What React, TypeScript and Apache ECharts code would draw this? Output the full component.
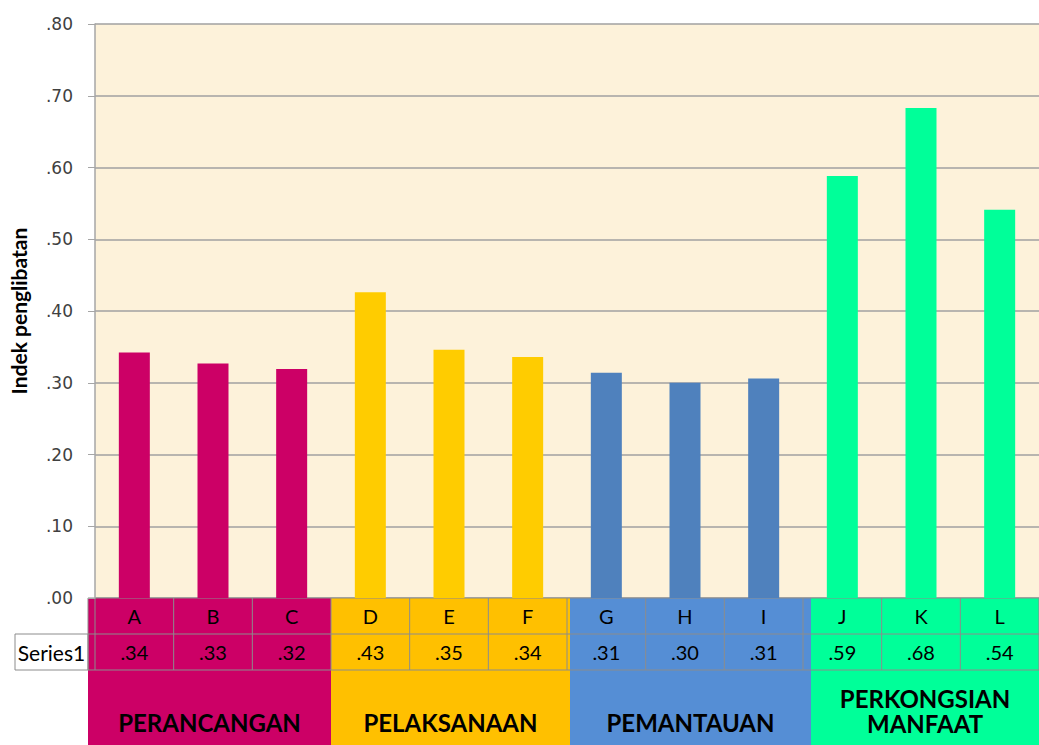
import React, { useEffect, useRef } from "react";
import * as echarts from "echarts";

const categories = ["A", "B", "C", "D", "E", "F", "G", "H", "I", "J", "K", "L"];
const values = [0.342, 0.327, 0.319, 0.426, 0.346, 0.336, 0.314, 0.3, 0.306, 0.588, 0.683, 0.541];
const groups = [["PERANCANGAN"], ["PELAKSANAAN"], ["PEMANTAUAN"], ["PERKONGSIAN", "MANFAAT"]];
const groupOf = [0, 0, 0, 1, 1, 1, 2, 2, 2, 3, 3, 3];
const seriesName = "Series1";
const yTitle = "Indek penglibatan";

const barColors = ["#CC0066", "#FFCC00", "#4F81BD", "#00FF99"];
const tableColors = ["#CC0066", "#FFC000", "#558ED5", "#00FF99"];

const fmt = (v: number) => (Math.round(v * 100) / 100).toFixed(2).replace(/^0/, "");

export default function App() {
  const ref = useRef<HTMLDivElement>(null);
  useEffect(() => {
    const chart = echarts.init(ref.current!, null, { renderer: "svg" });
    const option: any = {
      animation: false,
      grid: {
        left: 95,
        top: 24,
        right: 0,
        bottom: 147,
        show: true,
        backgroundColor: "#FDF2DA",
        borderWidth: 0,
        containLabel: false,
        outerBoundsMode: "none",
      },
      xAxis: {
        type: "category",
        data: categories,
        axisLabel: { show: false },
        axisTick: { show: false },
        axisLine: { show: false },
      },
      yAxis: {
        type: "value",
        min: 0,
        max: 0.8,
        interval: 0.1,
        name: yTitle,
        nameLocation: "middle",
        nameRotate: 90,
        nameGap: 66,
        nameTextStyle: { fontFamily: "Lato", fontWeight: "bold", fontSize: 21, color: "#000" },
        axisLine: { show: true, lineStyle: { color: "#A6A6A6", width: 1.5 } },
        axisTick: { show: true, length: 7, lineStyle: { color: "#A6A6A6" } },
        axisLabel: {
          formatter: (v: number) => fmt(v),
          fontFamily: "DejaVu Sans",
          fontSize: 17,
          color: "#404040",
          margin: 22,
        },
        splitLine: { show: true, lineStyle: { color: "#A0A0A0", width: 1.5 } },
      },
      series: [
        {
          type: "bar",
          name: seriesName,
          barWidth: 31,
          data: values.map((v, i) => ({ value: v, itemStyle: { color: barColors[groupOf[i]] } })),
        },
      ],
    };
    chart.setOption(option);

    const c0 = chart.convertToPixel({ xAxisIndex: 0 }, 0) as number;
    const c1 = chart.convertToPixel({ xAxisIndex: 0 }, 1) as number;
    const w = c1 - c0;
    const y0 = chart.convertToPixel({ yAxisIndex: 0 }, 0) as number;
    const r1 = y0 + 36;
    const r2 = r1 + 36;
    const bottom = 745;
    const left = (i: number) => (chart.convertToPixel({ xAxisIndex: 0 }, i) as number) - w / 2;
    const plotLeft = left(0);
    const plotRight = left(categories.length - 1) + w;
    const blockShift = [0, 0, 3, 8];

    const g: any[] = [];
    const starts: number[] = [];
    groups.forEach((lines, gi) => {
      const idx = groupOf.map((x, i) => (x === gi ? i : -1)).filter((i) => i >= 0);
      starts.push(gi === 0 ? plotLeft - 7 : left(idx[0]) + blockShift[gi]);
    });
    groups.forEach((lines, gi) => {
      const x0 = starts[gi];
      const x1 = gi < groups.length - 1 ? starts[gi + 1] : plotRight;
      g.push({
        type: "rect",
        shape: { x: x0, y: y0, width: x1 - x0, height: bottom - y0 },
        style: { fill: tableColors[gi] },
        silent: true,
      });
      const startY = lines.length > 1 ? 698 : 722;
      lines.forEach((t, li) => {
        g.push({
          type: "text",
          x: (x0 + x1) / 2,
          y: startY + li * 25,
          style: {
            text: t,
            fill: "#000",
            font: "bold 24px Lato",
            align: "center",
            verticalAlign: "middle",
          },
          silent: true,
        });
      });
    });
    g.push({
      type: "rect",
      shape: { x: 15, y: r1, width: plotLeft - 7 - 15, height: 36 },
      style: { fill: "#fff", stroke: "#8C8C8C", lineWidth: 1 },
      silent: true,
    });
    g.push({
      type: "text",
      x: (15 + plotLeft - 7) / 2,
      y: r1 + 18,
      style: { text: seriesName, fill: "#000", font: "21px Lato", align: "center", verticalAlign: "middle" },
      silent: true,
    });
    [y0, r1, r2].forEach((yy) => {
      g.push({
        type: "line",
        shape: { x1: plotLeft - 7, y1: yy, x2: plotRight, y2: yy },
        style: { stroke: "#8C8C8C", lineWidth: 1 },
        silent: true,
      });
    });
    const xs = [plotLeft - 7];
    for (let i = 0; i <= categories.length; i++) xs.push(plotLeft + i * w);
    xs.forEach((xx) => {
      g.push({
        type: "line",
        shape: { x1: xx, y1: y0, x2: xx, y2: r2 },
        style: { stroke: "#8C8C8C", lineWidth: 1 },
        silent: true,
      });
    });
    categories.forEach((cat, i) => {
      const cx = left(i) + w / 2;
      g.push({
        type: "text",
        x: cx,
        y: y0 + 18,
        style: { text: cat, fill: "#000", font: "20px Lato", align: "center", verticalAlign: "middle" },
        silent: true,
      });
      g.push({
        type: "text",
        x: cx,
        y: r1 + 18,
        style: { text: fmt(values[i]), fill: "#000", font: "20px Lato", align: "center", verticalAlign: "middle" },
        silent: true,
      });
    });

    chart.setOption({ graphic: { elements: g } });
    return () => chart.dispose();
  }, []);
  return (
    <div
      ref={ref}
      style={{ position: "fixed", left: 0, top: 0, width: 1039, height: 745, background: "#fff" }}
    />
  );
}
